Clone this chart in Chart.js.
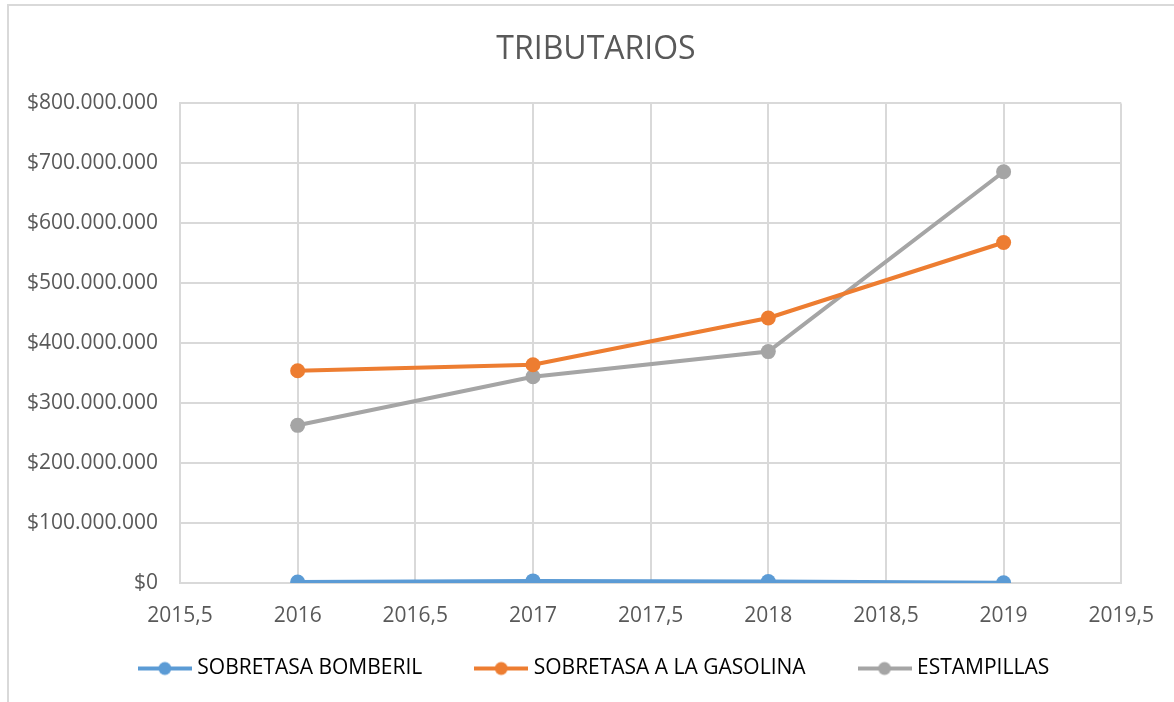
<!DOCTYPE html>
<html>
<head>
<meta charset="utf-8">
<script src="https://cdn.jsdelivr.net/npm/chart.js@4/dist/chart.umd.min.js"></script>
<style>
  html, body { margin: 0; padding: 0; background: #fff; overflow: hidden; }
  #myChart { display: block; }
</style>
</head>
<body>
<canvas id="myChart" width="1174" height="702"></canvas>
<script>
// datos
var years = [2016, 2017, 2018, 2019];
var bomberil = [1500000, 3500000, 2500000, 500000];
var gasolina = [354000000, 364000000, 442000000, 568000000];
var estampillas = [263000000, 344000000, 386000000, 686000000];
var seriesNames = ["SOBRETASA BOMBERIL", "SOBRETASA A LA GASOLINA", "ESTAMPILLAS"];
var seriesColors = ["#5b9bd5", "#ed7d31", "#a5a5a5"];

var textColor = "#595959";
var gridColor = "#d9d9d9";
var fontName = "'Open Sans', sans-serif";
var tickSize = 21;

function money(v) {
  return "$" + String(v).replace(/\B(?=(\d{3})+(?!\d))/g, ".");
}

// ancho de la etiqueta mas larga del eje Y (para alinearla a la derecha)
var meas = document.createElement("canvas").getContext("2d");
meas.font = tickSize + "px " + fontName;
var widestY = meas.measureText(money(800000000)).width;

function toPoints(values) {
  return values.map(function (v, i) { return { x: years[i], y: v }; });
}

// marcador de la leyenda: linea con circulo
function makeMarker(color) {
  var c = document.createElement("canvas");
  c.width = 54;
  c.height = 16;
  var g = c.getContext("2d");
  g.strokeStyle = color;
  g.lineWidth = 4;
  g.beginPath();
  g.moveTo(0, 8);
  g.lineTo(54, 8);
  g.stroke();
  g.fillStyle = color;
  g.beginPath();
  g.arc(27, 8, 6.5, 0, Math.PI * 2);
  g.fill();
  return c;
}

function makeDataset(i, values) {
  return {
    label: seriesNames[i],
    data: toPoints(values),
    borderColor: seriesColors[i],
    backgroundColor: seriesColors[i],
    borderWidth: 4,
    pointRadius: 7.5,
    pointHoverRadius: 7.5,
    pointBorderWidth: 0,
    tension: 0
  };
}

// borde del area del grafico
var borderPlugin = {
  id: "chartBorder",
  beforeDraw: function (chart) {
    var ctx = chart.ctx;
    ctx.save();
    ctx.strokeStyle = gridColor;
    ctx.lineWidth = 2;
    ctx.strokeRect(8, 5, 1300, 800);
    ctx.restore();
  }
};

var padLeft = 70;

var ctx = document.getElementById("myChart");
var myLineChart = new Chart(ctx, {
  type: "line",
  data: {
    datasets: [
      makeDataset(0, bomberil),
      makeDataset(1, gasolina),
      makeDataset(2, estampillas)
    ]
  },
  plugins: [borderPlugin],
  options: {
    responsive: false,
    animation: false,
    layout: { padding: { left: padLeft, right: 52, top: 0, bottom: 13 } },
    plugins: {
      tooltip: { enabled: false },
      title: {
        display: true,
        text: "TRIBUTARIOS",
        color: textColor,
        font: { family: fontName, size: 32, weight: "normal" },
        padding: { top: 31, bottom: 34 }
      },
      legend: {
        position: "bottom",
        labels: {
          color: textColor,
          font: { family: fontName, size: tickSize },
          usePointStyle: true,
          pointStyleWidth: 44,
          padding: 20,
          generateLabels: function (chart) {
            var n = chart.data.datasets.length;
            return chart.data.datasets.map(function (ds, i) {
              return {
                // espacio extra entre elementos de la leyenda
                text: ds.label + (i < n - 1 ? "\u2003\u2002 " : ""),
                pointStyle: makeMarker(ds.borderColor),
                fillStyle: ds.borderColor,
                strokeStyle: ds.borderColor,
                lineWidth: 0,
                hidden: false,
                datasetIndex: i
              };
            });
          }
        }
      }
    },
    scales: {
      x: {
        type: "linear",
        min: 2015.5,
        max: 2019.5,
        afterFit: function (scale) { scale.height = 55; },
        grid: { color: gridColor, lineWidth: 2, drawTicks: false },
        border: { color: gridColor, width: 2 },
        ticks: {
          stepSize: 0.5,
          padding: 20,
          color: textColor,
          font: { family: fontName, size: tickSize },
          maxRotation: 0,
          callback: function (v) { return String(v).replace(".", ","); }
        }
      },
      y: {
        min: 0,
        max: 800000000,
        afterFit: function (scale) { scale.width = 180 - padLeft; },
        grid: { color: gridColor, lineWidth: 2, drawTicks: false },
        border: { color: gridColor, width: 2 },
        ticks: {
          stepSize: 100000000,
          mirror: true,
          crossAlign: "far",
          padding: -(widestY + 22),
          color: textColor,
          font: { family: fontName, size: tickSize },
          callback: money
        }
      }
    }
  }
});
</script>
</body>
</html>
